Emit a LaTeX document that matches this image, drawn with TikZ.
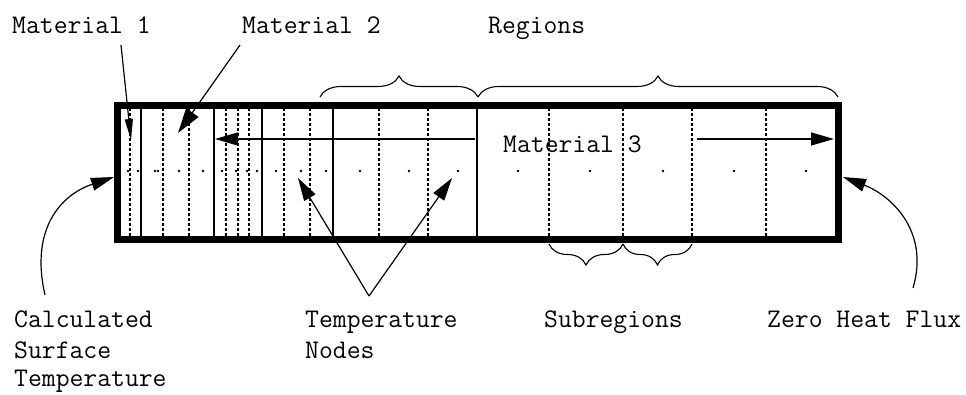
\documentclass[tikz,border=0pt]{standalone}
\usepackage{fontspec}
\usetikzlibrary{arrows.meta,decorations.pathreplacing}
\begin{document}
\begin{tikzpicture}[x=1pt,y=-1pt,
  lbl/.style={font=\ttfamily\fontsize{26.9}{32}\selectfont, anchor=base west, inner sep=0pt},
  solidline/.style={line width=1.3pt},
  dashline/.style={line width=1.3pt, dash pattern=on 3pt off 2pt},
  ptr/.style={line width=1.2pt, -{Triangle[length=23pt,width=13pt]}},
  tnode/.style={circle, fill, inner sep=0pt, minimum size=2.6pt},
  brc/.style={decorate, decoration={brace, amplitude=21pt}, line width=1.1pt}
]
\useasboundingbox (0,0) rectangle (966,394);

% interior lines
\foreach \x in {141,214,262,333,477} \draw[solidline] (\x,105) -- (\x,239);
\foreach \x in {130,163,189,226,238,249,284,310,379,428,549,623,692,766}
  \draw[dashline] (\x,108) -- (\x,236);

% temperature nodes
\foreach \x [count=\i] in {128,138,155,158,179,203,222,236,247,257,276,301,326,360,409,458,518,590,663,734,806}
  \node[tnode] (n\i) at (\x,171) {};

% slab border
\draw[line width=7pt] (117,105) rectangle (838,239);

% texts
\node[lbl] (mat1) at (12,33) {Material 1};
\node[lbl] (mat2) at (242,33) {Material 2};
\node[lbl] (reg) at (488,33) {Regions};
\node[lbl] (mat3) at (503,152) {Material 3};
\node[lbl] (calc1) at (14,327) {Calculated};
\node[lbl] (calc2) at (14,358) {Surface};
\node[lbl] (calc3) at (14,386) {Temperature};
\node[lbl] (tn1) at (305,327) {Temperature};
\node[lbl] (tn2) at (305,358) {Nodes};
\node[lbl] (sub) at (544,327) {Subregions};
\node[lbl] (zhf) at (767,327) {Zero Heat Flux};

% connector ends
\coordinate (m1s) at (121,45);  \coordinate (m1t) at (131,140);
\coordinate (m2s) at (240,45);  \coordinate (m2t) at (178,133);
\coordinate (m3l) at (475,139); \coordinate (m3lt) at (215,139);
\coordinate (m3r) at (697,139); \coordinate (m3rt) at (834,139);
\coordinate (tns) at (369,296);
\coordinate (tnl) at (298,178); \coordinate (tnr) at (452,178);
\coordinate (cs) at (45,295);   \coordinate (ct) at (114,177);
\coordinate (zs) at (913,288);  \coordinate (zt) at (843,177);

% arrows
\draw[line width=1.2pt, -{Triangle[length=21pt,width=8pt]}] (m1s) -- (m1t);
\draw[line width=1.2pt, -{Triangle[length=25pt,width=15pt]}] (m2s) -- (m2t);
\draw[ptr] (m3l) -- (m3lt);
\draw[ptr] (m3r) -- (m3rt);
\draw[ptr] (tns) -- (tnl);
\draw[ptr] (tns) -- (tnr);
\draw[ptr] (cs) .. controls (30,230) and (60,195) .. (ct);
\draw[ptr] (zs) .. controls (930,230) and (890,195) .. (zt);

% braces
\coordinate (b1) at (320,97); \coordinate (b2) at (478,97); \coordinate (b3) at (838,97);
\draw[brc] (b1) -- (b2);
\draw[brc] (b2) -- (b3);
\coordinate (s1) at (549,244); \coordinate (s2) at (623,244); \coordinate (s3) at (692,244);
\draw[brc] (s3) -- (s2);
\draw[brc] (s2) -- (s1);
\end{tikzpicture}
\end{document}
